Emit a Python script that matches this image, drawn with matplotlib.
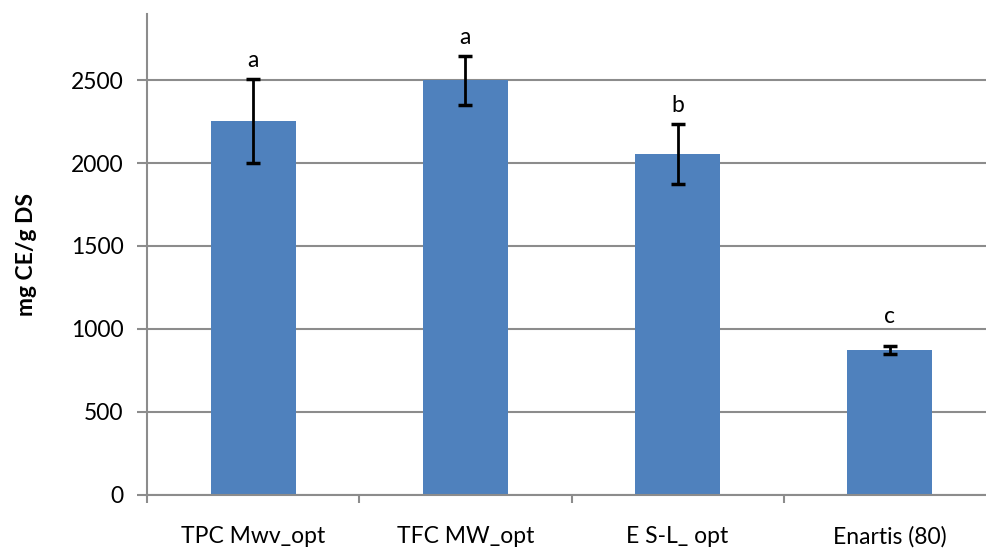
import numpy as np
import matplotlib.pyplot as plt

categorias = ["TPC Mwv_opt", "TFC MW_opt", "E S-L_ opt", "Enartis (80)"]
valores = [2253, 2500, 2054, 872]
erros = [252, 147, 181, 22]
letras = ["a", "a", "b", "c"]

plt.rcParams["font.family"] = ["Lato", "DejaVu Sans"]

fig = plt.figure(figsize=(9.86, 5.5), dpi=100)
ax = fig.add_axes([147 / 986, 1 - 494.5 / 550, 849 / 986, 480.5 / 550])

x = np.arange(len(categorias))
ax.bar(x, valores, width=0.4, color="#4F81BD", zorder=2)
ax.errorbar(x, valores, yerr=erros, fmt="none", ecolor="black",
            elinewidth=2, capsize=5, capthick=2.5, zorder=3)

for xi, v, e, l in zip(x, valores, erros, letras):
    dy = 14 if l == "c" else 6
    ax.annotate(l, (xi, v + e), xytext=(0, dy), textcoords="offset points",
                ha="center", va="bottom", fontsize=16.5)

ax.set_xlim(-0.5, 3.5)
ax.set_ylim(0, 2900)
ax.set_yticks([0, 500, 1000, 1500, 2000, 2500])
ax.yaxis.grid(True, color="#8C8C8C", linewidth=1.5, zorder=0)
ax.set_axisbelow(True)

ax.set_xticks(x)
ax.set_xticklabels(categorias)
ax.set_xticks(np.arange(-0.5, 4, 1), minor=True)
ax.tick_params(axis="x", which="major", length=0, pad=23, labelsize=16.5)
ax.tick_params(axis="x", which="minor", length=6, width=1.5, color="#8C8C8C")
ax.tick_params(axis="y", length=7, width=1.5, color="#8C8C8C", pad=10, labelsize=16.5)

for s in ["top", "right"]:
    ax.spines[s].set_visible(False)
for s in ["left", "bottom"]:
    ax.spines[s].set_color("#8C8C8C")
    ax.spines[s].set_linewidth(1.5)

ax.set_ylabel("mg CE/g DS", fontsize=16.5, fontweight="bold", labelpad=24)

fig.savefig("out.png", dpi=100)
